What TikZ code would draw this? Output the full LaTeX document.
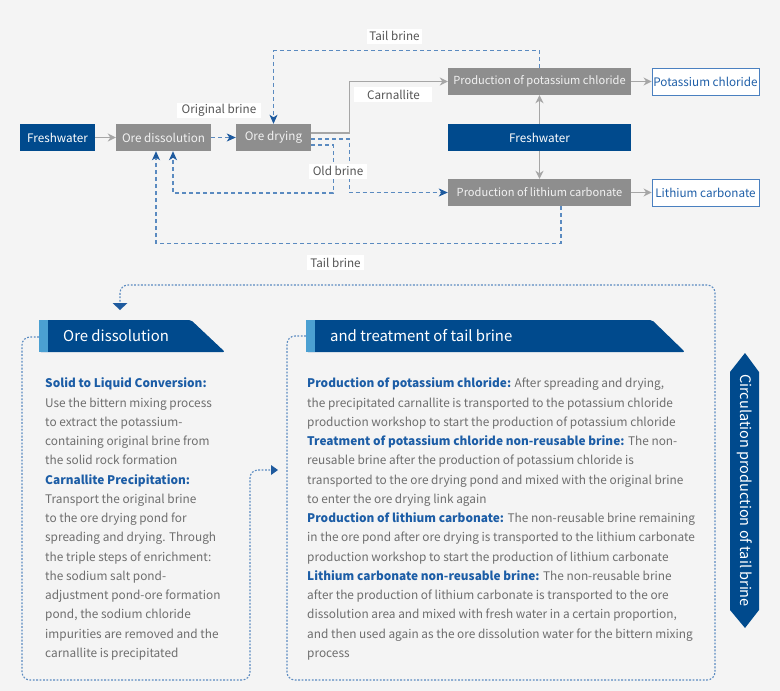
\documentclass[tikz,border=0pt]{standalone}
\usepackage{fontspec}
\setmainfont{Noto Sans CJK SC}
\usetikzlibrary{arrows.meta,calc}
\definecolor{bg}{HTML}{F4F4F4}
\definecolor{dblue}{HTML}{004A8D}
\definecolor{lblue}{HTML}{4BA0D2}
\definecolor{boxgray}{HTML}{8E8E8E}
\definecolor{boxtext}{HTML}{F2F2F2}
\definecolor{arrgray}{HTML}{A6A6A6}
\definecolor{dashblue}{HTML}{5A8AC0}
\definecolor{arrblue}{HTML}{1E5A9E}
\definecolor{outborder}{HTML}{4A80C0}
\definecolor{outtext}{HTML}{1F5FA8}
\definecolor{bodytext}{HTML}{6E6E6E}
\definecolor{headblue}{HTML}{1C5DA6}
\definecolor{lbltext}{HTML}{555555}
\tikzset{
  base box/.style={rectangle, inner sep=0pt, minimum height=27pt, font=\fontsize{11.7}{14}\selectfont},
  graybox/.style={base box, fill=boxgray, text=boxtext},
  widebox/.style={graybox, font=\fontsize{11.1}{14}\selectfont},
  bluebox/.style={base box, fill=dblue, text=white},
  outbox/.style={base box, fill=white, draw=outborder, line width=0.8pt, text=outtext},
  lbl/.style={fill=white, text=lbltext, inner sep=0pt, minimum height=15pt, font=\fontsize{11.7}{14}\selectfont},
  garrow/.style={draw=arrgray, line width=1.3pt, -{Stealth[length=8pt,width=8pt,inset=2.5pt,fill=arrgray]}},
  barrow/.style={draw=dashblue, line width=1.1pt, dash pattern=on 4pt off 3pt, -{Stealth[length=9pt,width=8pt,inset=2.5pt,fill=arrblue,color=arrblue]}},
  dotline/.style={draw=dashblue, line width=1.1pt, dash pattern=on 1.8pt off 1.6pt, rounded corners=8pt},
  hdr/.style={text=white, inner sep=0pt, font=\fontsize{14.9}{17}\selectfont},
  body/.style={inner sep=0pt, text=bodytext, font=\fontsize{11.85}{19.25}\selectfont},
}
\newcommand{\hb}[1]{{\bfseries\color{headblue}#1}}
\begin{document}
\begin{tikzpicture}[x=1pt,y=-1pt]
\fill[bg] (0,0) rectangle (780,691);
\useasboundingbox (0,0) rectangle (780,691);

% ---------- top flow ----------
\node[bluebox, minimum width=75pt] (fw1) at (57.5,137.5) {Freshwater};
\node[graybox, minimum width=95pt] (od) at (163.5,137.5) {Ore dissolution};
\node[graybox, minimum width=75pt] (dry) at (273.5,137.5) {Ore drying};
\node[widebox, minimum width=183pt] (kcl) at (539.5,81.5) {Production of potassium chloride};
\node[bluebox, minimum width=183pt] (fw2) at (539.5,137.5) {Freshwater};
\node[widebox, minimum width=183pt] (li) at (539.5,192.5) {Production of lithium carbonate};
\node[outbox, minimum width=107pt] (kclo) at (705.5,81.5) {Potassium chloride};
\node[outbox, minimum width=107pt] (lio) at (705.5,192.5) {Lithium carbonate};

\draw[garrow] (fw1.east) -- (od.west);
\draw[barrow] (od.east) -- (dry.west);
\draw[garrow] ($(dry.east)+(0,-4.5)$) -- ++(38,0) |- (kcl.west);
\draw[barrow] ($(dry.east)+(0,1.5)$) -- ++(38,0) |- (li.west);
\draw[barrow] ($(dry.east)+(0,7.5)$) -- ++(22,0) -- ++(0,48) -| ($(od.south)+(9.5,0)$);
\draw[barrow] (kcl.north) -- ++(0,-17) -| (dry.north);
\draw[barrow] ($(li.south)+(21.5,0)$) -- ++(0,37) -| ($(od.south)+(-7.5,0)$);
\draw[garrow] (fw2.north) -- (kcl.south);
\draw[garrow] (fw2.south) -- (li.north);
\draw[garrow] (kcl.east) -- (kclo.west);
\draw[garrow] (li.east) -- (lio.west);

\node[lbl, minimum width=55pt] (l1) at (394.5,36) {Tail brine};
\node[lbl, minimum width=84pt] (l2) at (219,110) {Original brine};
\node[lbl, minimum width=78pt] (l3) at (393,94.5) {\hspace{1pt}Carnallite\hspace{10pt}};
\node[lbl, minimum width=58pt] (l4) at (338,171) {Old brine};
\node[lbl, minimum width=57pt] (l5) at (335.5,262.5) {Tail brine};

% ---------- headers ----------
\fill[dblue, rounded corners=2pt] (39,320) -- (191,320) -- (225,352) -- (39,352) -- cycle;
\fill[lblue] (39,320) rectangle (48,352);
\node[hdr, anchor=west] (h1) at (63,336) {Ore dissolution};
\coordinate (h1l) at (39,337);

\fill[dblue, rounded corners=2pt] (306,320) -- (652,320) -- (685,352) -- (306,352) -- cycle;
\fill[lblue] (306,320) rectangle (315,352);
\node[hdr, anchor=west] (h2) at (330,336) {and treatment of tail brine};
\coordinate (h2l) at (306,336);

% ---------- dotted frames ----------
\coordinate (a1) at (278,470);
\coordinate (a2) at (120,310);
\draw[dotline] (h1l) -- (22,337) -- (22,680) -- (250,680) -- (250,470) -- ($(a1)+(-7,0)$);
\fill[arrblue] (a1) -- ++(-7,-5) -- ++(0,10) -- cycle;
\draw[dotline] (h2l) -- (287,336) -- (287,680) -- (715,680) -- (715,285) -- (120,285) -- ($(a2)+(0,-7)$);
\fill[arrblue] (a2) -- ++(-7.5,-7) -- ++(15,0) -- cycle;

% ---------- body texts ----------
\node[body, anchor=base west] (t1) at (45,378) {\parbox[t]{220pt}{\raggedright
\hb{Solid to Liquid Conversion:}\\
Use the bittern mixing process\\
to extract the potassium-\\
containing original brine from\\
the solid rock formation\\
\hb{Carnallite Precipitation:}\\
Transport the original brine\\
to the ore drying pond for\\
spreading and drying. Through\\
the triple steps of enrichment:\\
the sodium salt pond-\\
adjustment pond-ore formation\\
pond, the sodium chloride\\
impurities are removed and the\\
carnallite is precipitated}};

\node[body, anchor=base west] (t2) at (307,378) {\parbox[t]{420pt}{\raggedright
\hb{Production of potassium chloride:} After spreading and drying,\\
the precipitated carnallite is transported to the potassium chloride\\
production workshop to start the production of potassium chloride\\
\hb{Treatment of potassium chloride non-reusable brine:} The non-\\
reusable brine after the production of potassium chloride is\\
transported to the ore drying pond and mixed with the original brine\\
to enter the ore drying link again\\
\hb{Production of lithium carbonate:} The non-reusable brine remaining\\
in the ore pond after ore drying is transported to the lithium carbonate\\
production workshop to start the production of lithium carbonate\\
\hb{Lithium carbonate non-reusable brine:} The non-reusable brine\\
after the production of lithium carbonate is transported to the ore\\
dissolution area and mixed with fresh water in a certain proportion,\\
and then used again as the ore dissolution water for the bittern mixing\\
process}};

% ---------- side banner ----------
\fill[dblue] (745,353) -- (759,372) -- (759,610) -- (745,628) -- (730,610) -- (730,372) -- cycle;
\node[hdr, rotate=-90, font=\fontsize{14.5}{17}\selectfont] (bn) at (745,490.5) {Circulation production of tail brine};
\end{tikzpicture}
\end{document}
